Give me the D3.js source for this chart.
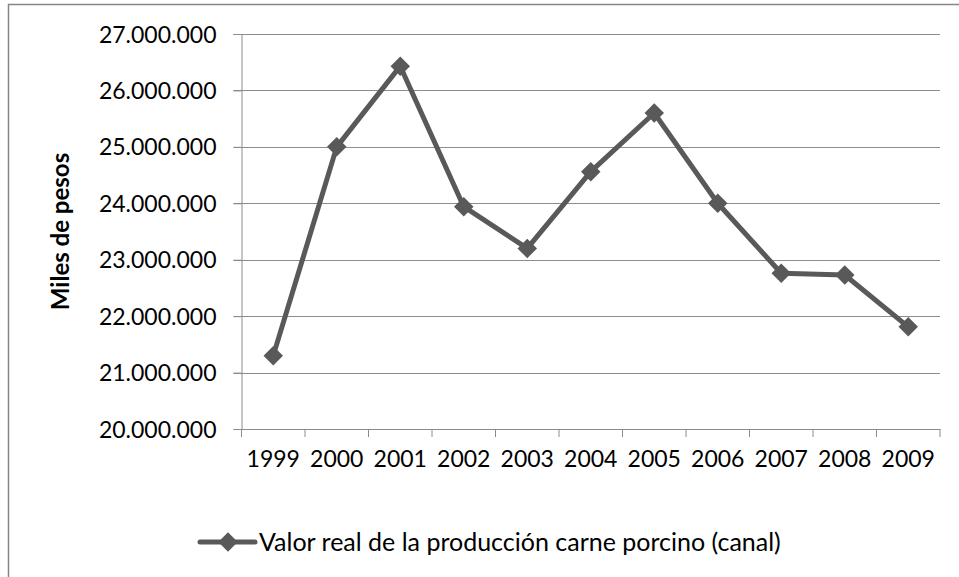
<!DOCTYPE html>
<html>
<head>
<meta charset="UTF-8">
<title></title>
<style>
  body { margin: 0; background: #fff; }
  text { font-family: Lato, "Open Sans", sans-serif; fill: #000; }
</style>
</head>
<body>
<div id="chart"></div>
<script src="https://d3js.org/d3.v7.min.js"></script>
<script>
var years = ["1999", "2000", "2001", "2002", "2003", "2004", "2005", "2006", "2007", "2008", "2009"];
var valores = [21300000, 25000000, 26430000, 23940000, 23200000, 24560000, 25600000, 24000000, 22760000, 22730000, 21810000];
var yTicks = [20000000, 21000000, 22000000, 23000000, 24000000, 25000000, 26000000, 27000000];
var serieName = "Valor real de la producción carne porcino (canal)";

var width = 959, height = 577;
var margin = { top: 34, right: 19, bottom: 148, left: 241.5 };

var svg = d3.select("#chart").append("svg")
  .attr("width", width)
  .attr("height", height);

// marco exterior
svg.append("rect")
  .attr("x", 8.5).attr("y", 4.5)
  .attr("width", width + 20).attr("height", height + 20)
  .attr("fill", "none")
  .attr("stroke", "#868686")
  .attr("stroke-width", 1.5);

var x = d3.scaleBand()
  .domain(years)
  .range([margin.left, width - margin.right]);

var y = d3.scaleLinear()
  .domain([20000000, 27000000])
  .range([height - margin.bottom, margin.top]);

var fmt = function(d) { return d3.format(",")(d).replace(/,/g, "."); };

// rejilla
svg.append("g")
  .selectAll("line")
  .data(yTicks.filter(function(d) { return d > 20000000; }))
  .join("line")
  .attr("x1", margin.left - 8)
  .attr("x2", width - margin.right)
  .attr("y1", function(d) { return Math.round(y(d)) + 0.5; })
  .attr("y2", function(d) { return Math.round(y(d)) + 0.5; })
  .attr("stroke", "#8c8c8c")
  .attr("stroke-width", 1);

// eje y
var yAxis = svg.append("g")
  .attr("transform", "translate(" + margin.left + ",0)")
  .call(d3.axisLeft(y).tickValues(yTicks).tickFormat(fmt).tickSize(8).tickPadding(17));
yAxis.selectAll("path,line").attr("stroke", "#8c8c8c");
yAxis.selectAll("text").style("font-size", "23px").attr("dy", "0.35em");

// eje x
var xAxis = svg.append("g")
  .attr("transform", "translate(0," + (height - margin.bottom) + ")")
  .call(d3.axisBottom(x).tickSize(0).tickPadding(22));
xAxis.select(".domain").attr("stroke", "#8c8c8c");
xAxis.selectAll("text").style("font-size", "23px");
svg.append("g")
  .selectAll("line")
  .data(years.concat(["end"]))
  .join("line")
  .attr("x1", function(d, i) { return i < years.length ? x(d) : x.range()[1]; })
  .attr("x2", function(d, i) { return i < years.length ? x(d) : x.range()[1]; })
  .attr("y1", height - margin.bottom)
  .attr("y2", height - margin.bottom + 8)
  .attr("stroke", "#8c8c8c");

// titulo eje y
svg.append("text")
  .attr("transform", "translate(69," + (margin.top + (height - margin.bottom - margin.top) / 2) + ") rotate(-90)")
  .attr("text-anchor", "middle")
  .style("font-size", "24px")
  .style("font-weight", "bold")
  .text("Miles de pesos");

// linea
var line = d3.line()
  .x(function(d, i) { return x(years[i]) + x.bandwidth() / 2; })
  .y(function(d) { return y(d); });

svg.append("path")
  .datum(valores)
  .attr("d", line)
  .attr("fill", "none")
  .attr("stroke", "#595959")
  .attr("stroke-width", 5)
  .attr("stroke-linejoin", "round");

var diamond = d3.symbol().type(d3.symbolSquare).size(190);

svg.append("g")
  .selectAll("path")
  .data(valores)
  .join("path")
  .attr("d", diamond)
  .attr("transform", function(d, i) {
    return "translate(" + (x(years[i]) + x.bandwidth() / 2) + "," + y(d) + ") rotate(45)";
  })
  .attr("fill", "#595959");

// leyenda
var legend = svg.append("g").attr("transform", "translate(200,542)");
legend.append("line")
  .attr("x1", 0).attr("x2", 55)
  .attr("stroke", "#595959")
  .attr("stroke-width", 5)
  .attr("stroke-linecap", "round");
legend.append("path")
  .attr("d", diamond)
  .attr("transform", "translate(28,0) rotate(45)")
  .attr("fill", "#595959");
legend.append("text")
  .attr("x", 59)
  .attr("dy", "0.35em")
  .style("font-size", "25px")
  .text(serieName);
</script>
</body>
</html>
